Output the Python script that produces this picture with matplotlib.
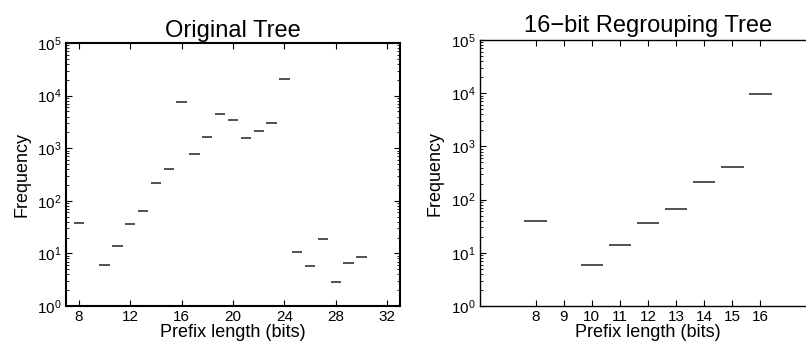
import matplotlib
matplotlib.use('Agg')
import matplotlib.pyplot as plt
import numpy as np

plt.rcParams['font.family'] = ['Liberation Sans', 'DejaVu Sans']
plt.rcParams['mathtext.fontset'] = 'custom'
plt.rcParams['mathtext.rm'] = 'Liberation Sans'

# 原始树: 前缀长度与频数
orig_len = [8, 10, 11, 12, 13, 14, 15, 16, 17, 18, 19, 20, 21, 22, 23, 24,
            25, 26, 27, 28, 29, 30]
orig_freq = [38, 6, 14, 36, 65, 220, 400, 7600, 790, 1600, 4550, 3450, 1570,
             2100, 3000, 21000, 10.6, 5.8, 18.5, 2.9, 6.7, 8.6]
orig_ticks = [8, 12, 16, 20, 24, 28, 32]

# 16位重组树
regr_len = [8, 10, 11, 12, 13, 14, 15, 16]
regr_freq = [39, 5.9, 13.8, 36, 66, 217, 404, 9800]
regr_ticks = [8, 9, 10, 11, 12, 13, 14, 15, 16]

W, H = 806, 345
fig = plt.figure(figsize=(W / 100, H / 100), dpi=100)


def make_axes(left, right, top, bottom):
    return fig.add_axes([left / W, 1 - bottom / H, (right - left) / W, (bottom - top) / H])


def style(ax, xs, ys, ticks, xlim, title, pad, spine_w):
    x = np.array(xs, dtype=float)
    ax.hlines(ys, x - 0.4, x + 0.4, colors='#222222', linewidth=1.1)
    ax.set_yscale('log')
    ax.set_ylim(1, 1e5)
    ax.set_xlim(*xlim)
    ax.set_xticks(ticks)
    ax.set_xticklabels([str(t) for t in ticks])
    ax.tick_params(which='both', direction='in', top=True, right=True, labelsize=11, pad=3)
    ax.tick_params(which='major', length=4, width=0.8)
    ax.tick_params(which='minor', length=2, width=0.6)
    ax.tick_params(axis='x', which='minor', top=False, bottom=False)
    for s in ax.spines.values():
        s.set_linewidth(spine_w)
    ax.set_xlabel('Prefix length (bits)', fontsize=13, labelpad=0)
    ax.set_ylabel('Frequency', fontsize=13, labelpad=5)
    ax.set_title(title, fontsize=17, pad=pad)


ax1 = make_axes(66, 400, 43, 306)
style(ax1, orig_len, orig_freq, orig_ticks, (7, 33), 'Original Tree', 4, 1.5)

ax2 = make_axes(479.5, 816.6, 40, 306)
style(ax2, regr_len, regr_freq, regr_ticks, (6, 18), '16\u2212bit Regrouping Tree', 6, 1.0)

fig.savefig('out.png', dpi=100)
